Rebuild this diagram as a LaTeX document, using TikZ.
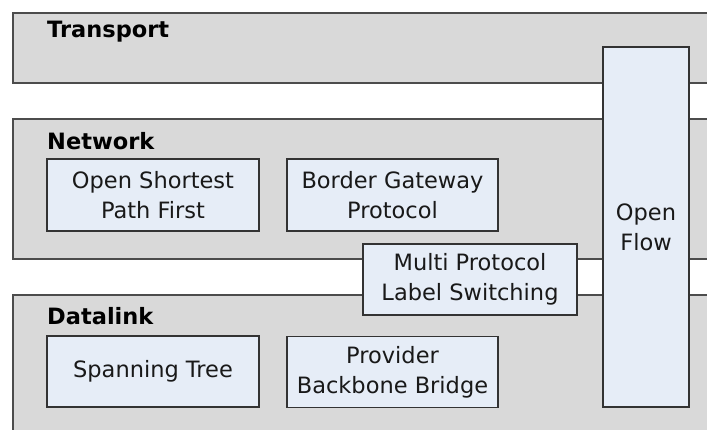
\documentclass[tikz,border=0pt]{standalone}
\usepackage{fontspec}
\setmainfont{DejaVu Sans}
\begin{document}
\begin{tikzpicture}[x=1pt,y=-1pt,
  layer/.style={draw=black!70, line width=1.6pt, fill=black!15, anchor=north west, inner sep=0pt},
  proto/.style={draw=black!80, line width=1.6pt, fill=protofill, inner sep=0pt, align=center,
    text=black!90, font=\fontsize{22.5}{30}\selectfont},
  layername/.style={anchor=base west, inner sep=0pt, text=black, font=\bfseries\fontsize{22.5}{26}\selectfont}]
\definecolor{protofill}{HTML}{E6EDF7}
\clip (0,0) rectangle (707,430);
\fill[white] (0,0) rectangle (707,430);
% protocol layers (they run past the right edge)
\node[layer, minimum width=720pt, minimum height=70pt] (transport) at (12,12) {};
\node[layer, minimum width=720pt, minimum height=140pt] (network) at (12,118) {};
\node[layer, minimum width=720pt, minimum height=160pt] (datalink) at (12,294) {};
\node[layername] (tlabel) at (47,38) {Transport};
\node[layername] (nlabel) at (47,150) {Network};
\node[layername] (dlabel) at (47,325) {Datalink};
% protocols inside the layers
\node[proto, minimum width=212pt, minimum height=72pt] (ospf) at (153,195) {Open Shortest\\Path First};
\node[proto, minimum width=211pt, minimum height=72pt] (bgp) at (392.5,195) {Border Gateway\\Protocol};
\node[proto, minimum width=212pt, minimum height=71pt] (stp) at (153,371.5) {Spanning Tree};
\node[proto, minimum width=211pt, minimum height=71pt] (pbb) at (392.5,372) {Provider\\Backbone Bridge};
% protocols that span several layers
\node[proto, minimum width=214pt, minimum height=71pt] (mpls) at (470,279.5) {Multi Protocol\\Label Switching};
\node[proto, minimum width=86pt, minimum height=360pt] (openflow) at (646,227) {Open\\Flow};
\end{tikzpicture}
\end{document}
